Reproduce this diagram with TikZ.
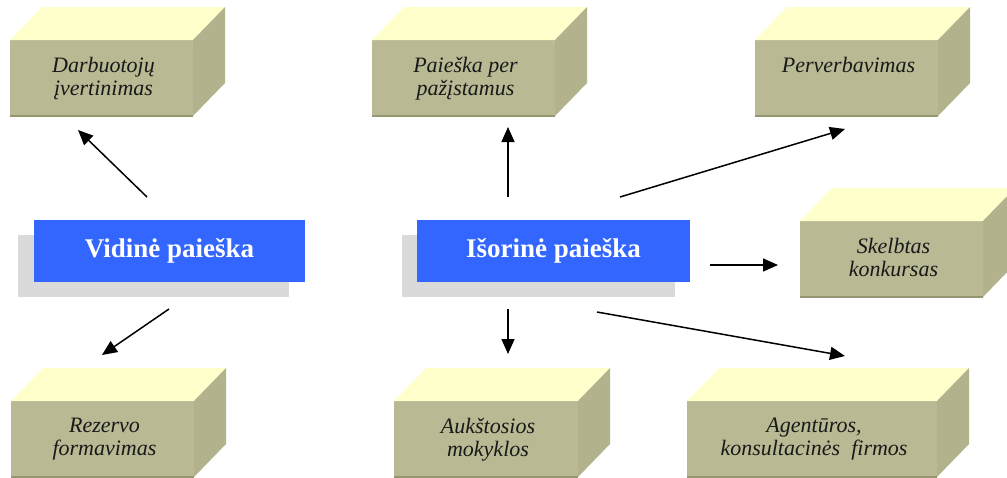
\documentclass[tikz,border=0pt]{standalone}
\usepackage{fontspec}
\setmainfont{Liberation Serif}
\newfontfamily\cubeit{LiberationSerif-Italic.ttf}
\usetikzlibrary{arrows.meta,calc}
\definecolor{cubefront}{RGB}{185,185,148}
\definecolor{cubetop}{RGB}{255,255,204}
\definecolor{cubeside}{RGB}{178,178,140}
\definecolor{cubeedge}{RGB}{150,150,112}
\definecolor{boxblue}{RGB}{51,102,255}
\definecolor{shadowgray}{RGB}{218,218,218}
\tikzset{
 cubeface/.style={draw=none, fill=cubefront, minimum height=76pt, inner sep=0pt, outer sep=0pt, anchor=north west},
 cubetext/.style={anchor=north, align=center, inner sep=0pt, font=\cubeit\fontsize{22}{23}\selectfont, text=black!90},
 bluebox/.style={fill=boxblue, text=white, font=\fontsize{27}{30}\selectfont\bfseries, minimum width=271pt, minimum height=62pt, inner sep=0pt, outer sep=0pt, anchor=north west},
 shadowbox/.style={fill=shadowgray, minimum width=271pt, minimum height=62pt, inner sep=0pt, outer sep=0pt, anchor=north west},
 conn/.style={line width=1.5pt, -{Triangle[length=15pt,width=13pt]}},
}
\newcommand\cubebox[5]{%
 \node[cubeface, minimum width=#4pt] (#1) at (#2,#3) {};
 \fill[cubetop] (#1.north west) -- ++(32,-33) -- ($(#1.north east)+(32,-33)$) -- (#1.north east) -- cycle;
 \fill[cubeside] (#1.north east) -- ++(32,-33) -- ($(#1.south east)+(32,-33)$) -- (#1.south east) -- cycle;
 \draw[cubeedge, line width=1.5pt] (#1.south west) -- (#1.south east);
 \node[cubetext] (#1t) at ($(#1.north)+(2,17)$) {#5};
}
\begin{document}
\begin{tikzpicture}[x=1pt, y=-1pt]
\useasboundingbox (0,0) rectangle (1007,477);
\cubebox{b1}{10}{40}{183}{Darbuotojų\\įvertinimas}
\cubebox{b2}{372}{40}{183}{Paieška per\\pažįstamus}
\cubebox{b3}{755}{40}{183}{Perverbavimas}
\cubebox{b4}{800}{221}{183}{Skelbtas\\konkursas}
\cubebox{b5}{11}{401}{183}{Rezervo\\formavimas}
\cubebox{b6}{394}{401}{184}{Aukštosios\\mokyklos}
\cubebox{b7}{687}{401}{250}{Agentūros,\\konsultacinės\ \ firmos}

\node[shadowbox] (vids) at (18,235) {};
\node[bluebox] (vid) at (34,220) {Vidinė paieška};
\node[shadowbox, minimum width=273pt] (isos) at (402,235) {};
\node[bluebox, minimum width=273pt] (iso) at (417,220) {Išorinė paieška};

\coordinate (a1s) at (147,197); \coordinate (a1e) at (78,130);
\coordinate (a2s) at (169,309); \coordinate (a2e) at (102,355);
\coordinate (a3s) at (508,197); \coordinate (a3e) at (508,127);
\coordinate (a4s) at (620,197); \coordinate (a4e) at (845,129);
\coordinate (a5s) at (710,265); \coordinate (a5e) at (778,265);
\coordinate (a6s) at (508,309); \coordinate (a6e) at (508,354);
\coordinate (a7s) at (597,312); \coordinate (a7e) at (845,356);
\draw[conn] (a1s) -- (a1e);
\draw[conn] (a2s) -- (a2e);
\draw[conn] (a3s) -- (a3e);
\draw[conn] (a4s) -- (a4e);
\draw[conn] (a5s) -- (a5e);
\draw[conn] (a6s) -- (a6e);
\draw[conn] (a7s) -- (a7e);
\end{tikzpicture}
\end{document}
